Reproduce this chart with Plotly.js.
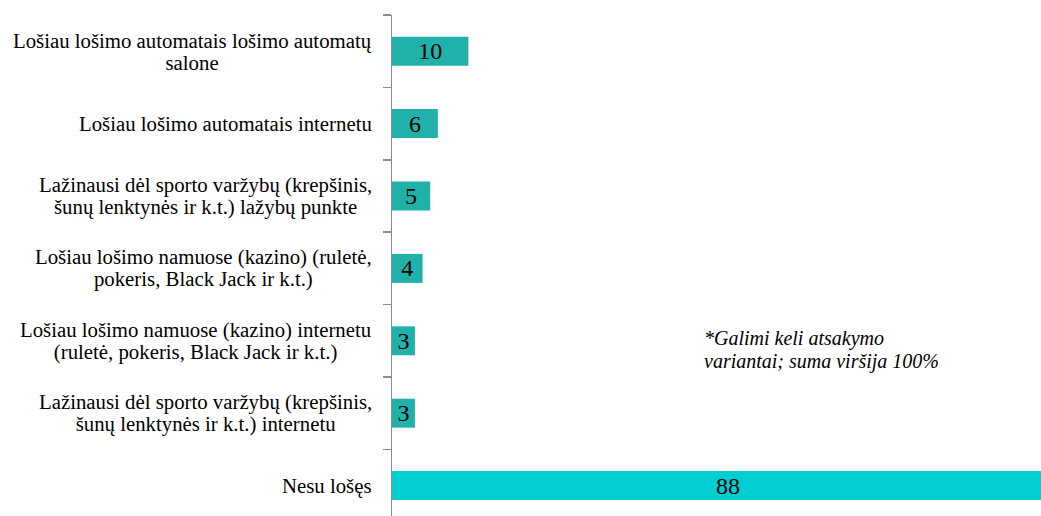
<!DOCTYPE html>
<html>
<head>
<meta charset="utf-8">
<script src="https://cdn.plot.ly/plotly-3.0.1.min.js"></script>
<style>html,body{margin:0;padding:0;background:#fff;overflow:hidden}</style>
</head>
<body>
<div id="chart" style="width:1041px;height:516px"></div>
<script>
const categories = [
  "Lošiau lošimo automatais lošimo automatų<br>salone",
  "Lošiau lošimo automatais internetu",
  "Lažinausi dėl sporto varžybų (krepšinis,<br>šunų lenktynės ir k.t.) lažybų punkte",
  "Lošiau lošimo namuose (kazino) (ruletė,<br>pokeris, Black Jack ir k.t.)",
  "Lošiau lošimo namuose (kazino) internetu<br>(ruletė, pokeris, Black Jack ir k.t.)",
  "Lažinausi dėl sporto varžybų (krepšinis,<br>šunų lenktynės ir k.t.) internetu",
  "Nesu lošęs"
];
const values = [10, 6, 5, 4, 3, 3, 88];
const barColors = ["#20B2AA","#20B2AA","#20B2AA","#20B2AA","#20B2AA","#20B2AA","#00CED1"];
const noteText = "*Galimi keli atsakymo<br>variantai; suma viršija 100%";

const serif = "Liberation Serif";
const idx = categories.map((c, i) => i);

// keep tight (Excel-like) line spacing: base size sets spacing, span sets glyph size
function sized(txt, px, italic) {
  return txt.split("<br>").map(l => {
    const inner = italic ? "<i>" + l + "</i>" : l;
    return '<span style="font-size:' + px + 'px">' + inner + "</span>";
  }).join("<br>");
}

const trace = {
  type: "bar",
  orientation: "h",
  x: values,
  y: idx,
  width: 0.4,
  marker: {color: barColors},
  text: values.map(String),
  textposition: "inside",
  insidetextanchor: "middle",
  textangle: 0,
  constraintext: "none",
  cliponaxis: true,
  textfont: {family: serif, size: 24, color: "#000"},
  hoverinfo: "none"
};

const annotations = categories.map((c, i) => ({
  xref: "paper", yref: "y",
  x: -0.027, y: i,
  xanchor: "right", yanchor: "middle",
  align: "center",
  text: sized(c, 20.8, false),
  showarrow: false,
  font: {family: serif, size: 17, color: "#000"}
}));
annotations.push({
  xref: "paper", yref: "paper",
  x: 0.477, y: 0.331,
  xanchor: "left", yanchor: "middle",
  align: "left",
  text: sized(noteText, 20, true),
  showarrow: false,
  font: {family: serif, size: 17.5, color: "#000"}
});

const layout = {
  width: 1041, height: 516,
  margin: {l: 392, r: 0, t: 15, b: 0, pad: 0},
  paper_bgcolor: "#fff", plot_bgcolor: "#fff",
  font: {family: serif},
  showlegend: false,
  xaxis: {range: [0, 85], visible: false, fixedrange: true},
  yaxis: {
    type: "linear",
    range: [6.42, -0.5],
    showline: true, linecolor: "#8c8c8c", linewidth: 1.5,
    ticks: "outside", ticklen: 8, tickcolor: "#8c8c8c", tickwidth: 1.5,
    tickmode: "array",
    tickvals: [-0.5, 0.5, 1.5, 2.5, 3.5, 4.5, 5.5, 6.5],
    showticklabels: false,
    showgrid: false, zeroline: false, fixedrange: true
  },
  annotations: annotations
};

Plotly.newPlot("chart", [trace], layout, {displayModeBar: false, staticPlot: true});
</script>
</body>
</html>
